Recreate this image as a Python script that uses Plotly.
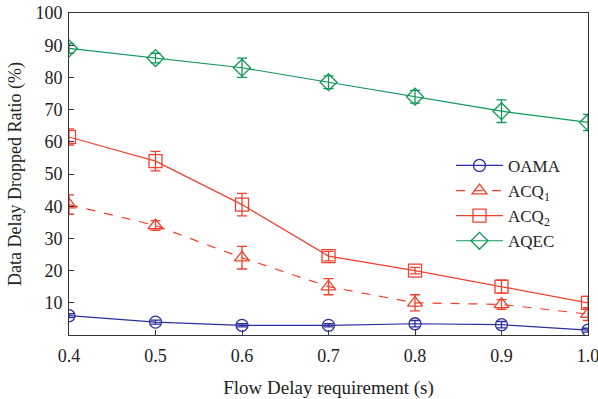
import plotly.graph_objects as go

x = [0.4, 0.5, 0.6, 0.7, 0.8, 0.9, 1.0]
oama = [6, 4, 3, 3, 3.5, 3.2, 1.5]
oama_err = [0.6, 0.6, 0.5, 0.5, 1.0, 1.0, 0.6]
acq1 = [40.5, 34, 24, 15, 10, 9.5, 6.5]
acq1_err = [3, 1.5, 3.5, 2.5, 2.5, 1.5, 2]
acq2 = [61.5, 54, 40.5, 24.5, 20, 15, 10]
acq2_err = [2.5, 3, 3.5, 1.5, 1, 2, 2]
aqec = [89, 86, 83, 78.5, 74, 69.5, 66]
aqec_err = [1.5, 1.5, 3, 2, 2, 3.5, 2.5]

xticks = [0.4, 0.5, 0.6, 0.7, 0.8, 0.9, 1.0]
xticklabels = ["0.4", "0.5", "0.6", "0.7", "0.8", "0.9", "1.0"]
yticks = [10, 20, 30, 40, 50, 60, 70, 80, 90, 100]

BLUE = "#2b2f9b"
RED = "#f0412f"
GREEN = "#11975a"

fig = go.Figure()

def add(name, ys, err, color, symbol, dash="solid", size=12):
    fig.add_trace(go.Scatter(
        x=x, y=ys, name=name, mode="lines+markers",
        line=dict(color=color, width=1.2, dash=dash),
        marker=dict(symbol=symbol, size=size, color=color,
                    line=dict(color=color, width=1.3)),
        error_y=dict(type="data", array=err, visible=True, color=color,
                     thickness=1.3, width=5),
    ))

add("OAMA", oama, oama_err, BLUE, "circle-open", size=12)
add("ACQ<sub>1</sub>", acq1, acq1_err, RED, "triangle-up-open", dash="dash", size=13)
add("ACQ<sub>2</sub>", acq2, acq2_err, RED, "square-open", size=13)
add("AQEC", aqec, aqec_err, GREEN, "diamond-open", size=13)

fig.update_layout(
    width=598, height=399,
    margin=dict(l=69, r=10, t=13, b=64),
    paper_bgcolor="white", plot_bgcolor="white",
    font=dict(family="Liberation Serif", size=18, color="#222"),
    showlegend=True,
    legend=dict(x=0.736, y=0.581, xanchor="left", yanchor="top",
                bgcolor="rgba(0,0,0,0)", font=dict(size=17),
                tracegroupgap=0, itemwidth=47),
    xaxis=dict(range=[0.4, 1.0], tickvals=xticks, ticktext=xticklabels,
               showgrid=False, zeroline=False, showline=True, mirror=True,
               linecolor="#333", linewidth=1, ticks="inside", ticklen=5,
               tickcolor="#333", ticklabelstandoff=4,
               ticklabeloverflow="allow", automargin=False,
               title=dict(text="Flow Delay requirement (s)", standoff=18,
                          font=dict(size=19))),
    yaxis=dict(range=[0, 100], tickvals=yticks,
               showgrid=False, zeroline=False, showline=True, mirror=True,
               linecolor="#333", linewidth=1, ticks="inside", ticklen=5,
               tickcolor="#333", ticklabelstandoff=2, automargin=False,
               title=dict(text="Data Delay Dropped Ratio (%)", standoff=9,
                          font=dict(size=18))),
)

fig.write_html("out.html")
